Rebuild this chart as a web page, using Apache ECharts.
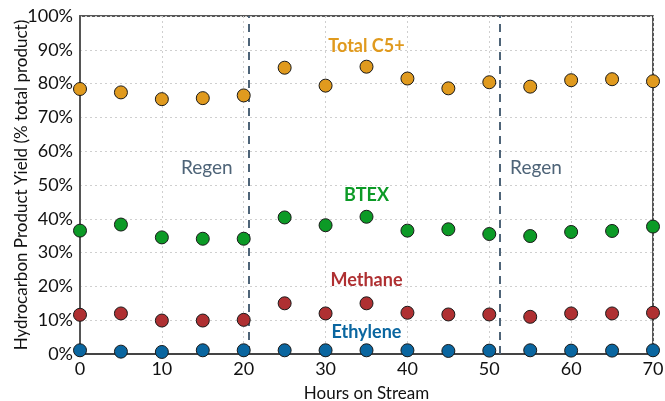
<!DOCTYPE html>
<html>
<head>
<meta charset="utf-8">
<script src="https://cdn.jsdelivr.net/npm/echarts@6/dist/echarts.min.js"></script>
<style>
  html, body { margin: 0; padding: 0; background: #fff; }
  #chart { width: 665px; height: 401px; }
</style>
</head>
<body>
<div id="chart"></div>
<script>
var hours = [0, 5, 10, 15, 20, 25, 30, 35, 40, 45, 50, 55, 60, 65, 70];
var totalC5 = [78.4, 77.4, 75.4, 75.7, 76.5, 84.7, 79.4, 85.0, 81.5, 78.6, 80.4, 79.1, 81.0, 81.3, 80.7];
var btex = [36.5, 38.3, 34.5, 34.1, 34.1, 40.4, 38.1, 40.6, 36.5, 36.9, 35.5, 34.9, 36.1, 36.4, 37.7];
var methane = [11.6, 12.0, 9.9, 9.9, 10.1, 15.0, 12.0, 15.0, 12.2, 11.7, 11.7, 11.0, 12.0, 12.0, 12.2];
var ethylene = [1.1, 0.7, 0.6, 1.1, 1.1, 1.1, 1.1, 1.1, 1.1, 0.9, 1.0, 1.1, 1.0, 1.0, 1.1];

// regeneration events (hours on stream)
var regenHours = [20.6, 51.25];
// annotation anchors [hour, %]
var regenLabelPos = [[15.5, 55], [55.7, 55]];
var seriesLabelPos = { 'Total C5+': [35, 91.2], 'BTEX': [35, 47.0], 'Methane': [35, 21.9], 'Ethylene': [35, 6.6] };

var chart = echarts.init(document.getElementById('chart'));
var font = 'Lato, "Open Sans", sans-serif';

function makeSeries(name, values, color) {
  var pts = [];
  for (var i = 0; i < hours.length; i++) pts.push([hours[i], values[i]]);
  return {
    name: name,
    type: 'scatter',
    data: pts,
    symbolSize: 13,
    clip: false,
    z: 5,
    itemStyle: { color: color, opacity: 1, borderColor: '#1a1a1a', borderWidth: 1 },
    markPoint: {
      symbol: 'circle',
      symbolSize: 0,
      silent: true,
      label: {
        show: true,
        position: 'inside',
        formatter: name,
        color: color,
        fontFamily: font,
        fontWeight: 'bold',
        fontSize: 18
      },
      data: [{ coord: seriesLabelPos[name] }]
    }
  };
}

var series = [
  makeSeries('Total C5+', totalC5, '#E09A1E'),
  makeSeries('BTEX', btex, '#0C9A26'),
  makeSeries('Methane', methane, '#AF3032'),
  makeSeries('Ethylene', ethylene, '#0A66A0')
];

// regen dashed lines and labels
series.push({
  type: 'scatter',
  data: [],
  silent: true,
  markLine: {
    symbol: 'none',
    silent: true,
    label: { show: false },
    lineStyle: { color: '#4E6478', type: [8, 6], width: 2 },
    data: regenHours.map(function (h) { return { xAxis: h }; })
  },
  markPoint: {
    symbol: 'circle',
    symbolSize: 0,
    silent: true,
    label: {
      show: true,
      position: 'inside',
      formatter: 'Regen',
      color: '#4E6478',
      fontFamily: font,
      fontSize: 19
    },
    data: regenLabelPos.map(function (p) { return { coord: p }; })
  }
});

var option = {
  animation: false,
  backgroundColor: '#fff',
  grid: {
    left: 80, right: 12, top: 16, bottom: 47,
    outerBoundsMode: 'none',
    containLabel: false,
    show: true,
    borderColor: '#222',
    borderWidth: 1.5
  },
  xAxis: {
    type: 'value',
    min: 0, max: 70, interval: 10,
    name: 'Hours on Stream',
    nameLocation: 'middle',
    nameGap: 31,
    nameMoveOverlap: false,
    nameTextStyle: { color: '#111', fontFamily: font, fontSize: 17 },
    axisLine: { show: true, onZero: false, lineStyle: { color: '#444', width: 2 } },
    axisTick: { show: true, length: 3, lineStyle: { color: '#444' } },
    axisLabel: { color: '#111', fontFamily: font, fontSize: 18, margin: 6 },
    splitLine: { show: true, lineStyle: { color: '#cfcfcf', type: [2, 3] } }
  },
  yAxis: {
    type: 'value',
    min: 0, max: 100, interval: 10,
    name: 'Hydrocarbon Product Yield (% total product)',
    nameLocation: 'middle',
    nameGap: 50,
    nameMoveOverlap: false,
    nameTextStyle: { color: '#111', fontFamily: font, fontSize: 17 },
    axisLine: { show: true, lineStyle: { color: '#555', width: 2 } },
    axisTick: { show: false },
    axisLabel: { color: '#111', fontFamily: font, fontSize: 18, margin: 7, formatter: '{value}%' },
    splitLine: { show: true, lineStyle: { color: '#cfcfcf', type: [2, 3] } }
  },
  series: series
};

chart.setOption(option);
</script>
</body>
</html>
